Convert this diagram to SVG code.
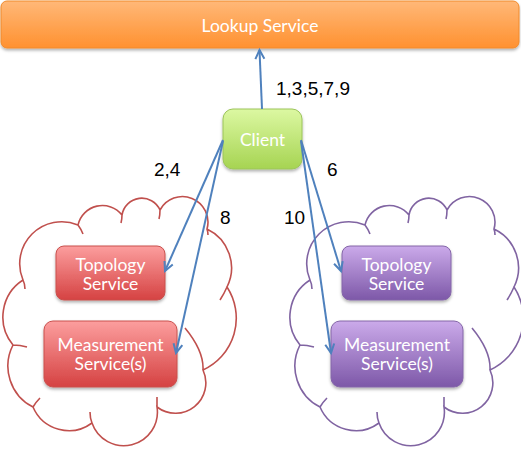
<svg xmlns="http://www.w3.org/2000/svg" xmlns:xlink="http://www.w3.org/1999/xlink" width="521" height="452" viewBox="0 0 521 452">
<style>
.node text{font-family:Lato,"Liberation Sans",sans-serif;font-size:17.5px;fill:#fff;text-anchor:middle}
.lbl{font-family:"Liberation Sans",Arial,sans-serif;font-size:19px;fill:#000}
.conn{fill:none;stroke:#4f81bd;stroke-width:2}
.cloud{fill:none;stroke-width:1.6}
</style>
<defs>
<linearGradient id="gOrange" x1="0" y1="0" x2="0" y2="1"><stop offset="0" stop-color="#ffb878"/><stop offset="1" stop-color="#ff9130"/></linearGradient>
<linearGradient id="gGreen" x1="0" y1="0" x2="0" y2="1"><stop offset="0" stop-color="#dcf8a2"/><stop offset="1" stop-color="#a6d452"/></linearGradient>
<linearGradient id="gRed" x1="0" y1="0" x2="0" y2="1"><stop offset="0" stop-color="#fc9e9e"/><stop offset="1" stop-color="#d54242"/></linearGradient>
<linearGradient id="gPurple" x1="0" y1="0" x2="0" y2="1"><stop offset="0" stop-color="#cbaaea"/><stop offset="1" stop-color="#7d58a8"/></linearGradient>
<filter id="sh" x="-10%" y="-10%" width="120%" height="140%"><feDropShadow dx="0" dy="2" stdDeviation="1.5" flood-color="#000" flood-opacity="0.3"/></filter>
<marker id="arr" markerUnits="userSpaceOnUse" markerWidth="14" markerHeight="14" viewBox="-11 -7 14 14" refX="0" refY="0" orient="auto"><path d="M-9,-4.5 L0,0 L-9,4.5" fill="none" stroke="#4f81bd" stroke-width="2" stroke-linejoin="miter"/></marker>
<path id="cloud" d="M13,345 A44,44 0 0 1 23,280 A42,42 0 0 1 78,225 A25,25 0 0 1 122,215 A20,20 0 0 1 160,210 A25.5,25.5 0 0 1 207,229 A43,43 0 0 1 227,287 A57,57 0 0 1 203,370 A30.4,30.4 0 0 1 157,407 A33.6,33.6 0 0 1 92,423 A39,39 0 0 1 33,407 A46,46 0 0 1 13,345 Z M23,280 Q25,284 25,289 M78,225 Q81,229 83,234 M122,215 Q122,219 121,223 M160,210 Q160,215 159,219 M207,229 Q208,232 208,235 M227,287 Q224,294 220,300 M203,370 Q204,351 185,328 M157,407 Q157,402 157,397 M92,423 Q90,418 90,412 M33,407 Q36,402 40,398 M13,345 Q20,345 27,347"/>
</defs>
<g id="cloud-red"><use xlink:href="#cloud" class="cloud" stroke="#c0504d"/></g>
<g id="cloud-purple"><use xlink:href="#cloud" class="cloud" stroke="#8064a2" transform="translate(287,0)"/></g>
<g id="lookup" class="node"><rect x="1" y="1" width="518" height="47" rx="6" fill="url(#gOrange)" stroke="#f08a2c" stroke-width="1" filter="url(#sh)"/><text x="260" y="31.5">Lookup Service</text></g>
<g id="client" class="node"><rect x="223" y="109" width="79" height="60" rx="10" fill="url(#gGreen)" stroke="#9cc45a" stroke-width="1" filter="url(#sh)"/><text x="262.5" y="146">Client</text></g>
<g id="topo-red" class="node"><rect x="56" y="246" width="109" height="54" rx="8" fill="url(#gRed)" stroke="#c9504d" stroke-width="1" filter="url(#sh)"/><text x="110.5" y="270.5">Topology</text><text x="110.5" y="290">Service</text></g>
<g id="meas-red" class="node"><rect x="44" y="321" width="133" height="66" rx="9" fill="url(#gRed)" stroke="#c9504d" stroke-width="1" filter="url(#sh)"/><text x="110.5" y="351">Measurement</text><text x="110.5" y="370">Service(s)</text></g>
<g id="topo-purple" class="node"><rect x="342" y="246" width="109" height="54" rx="8" fill="url(#gPurple)" stroke="#8466a8" stroke-width="1" filter="url(#sh)"/><text x="396.5" y="270.5">Topology</text><text x="396.5" y="290">Service</text></g>
<g id="meas-purple" class="node"><rect x="331" y="321" width="132" height="66" rx="9" fill="url(#gPurple)" stroke="#8466a8" stroke-width="1" filter="url(#sh)"/><text x="397" y="351">Measurement</text><text x="397" y="370">Service(s)</text></g>
<g id="connectors">
<line class="conn" x1="262" y1="109" x2="259.5" y2="50" marker-end="url(#arr)"/>
<line class="conn" x1="223" y1="140" x2="165" y2="271" marker-end="url(#arr)"/>
<line class="conn" x1="223" y1="141" x2="176" y2="353" marker-end="url(#arr)"/>
<line class="conn" x1="301" y1="140" x2="341" y2="271" marker-end="url(#arr)"/>
<line class="conn" x1="301" y1="141" x2="331" y2="353" marker-end="url(#arr)"/>
</g>
<g id="labels">
<text class="lbl" x="276" y="95">1,3,5,7,9</text>
<text class="lbl" x="154" y="176">2,4</text>
<text class="lbl" x="327" y="176">6</text>
<text class="lbl" x="220" y="224">8</text>
<text class="lbl" x="284" y="224">10</text>
</g>
</svg>
